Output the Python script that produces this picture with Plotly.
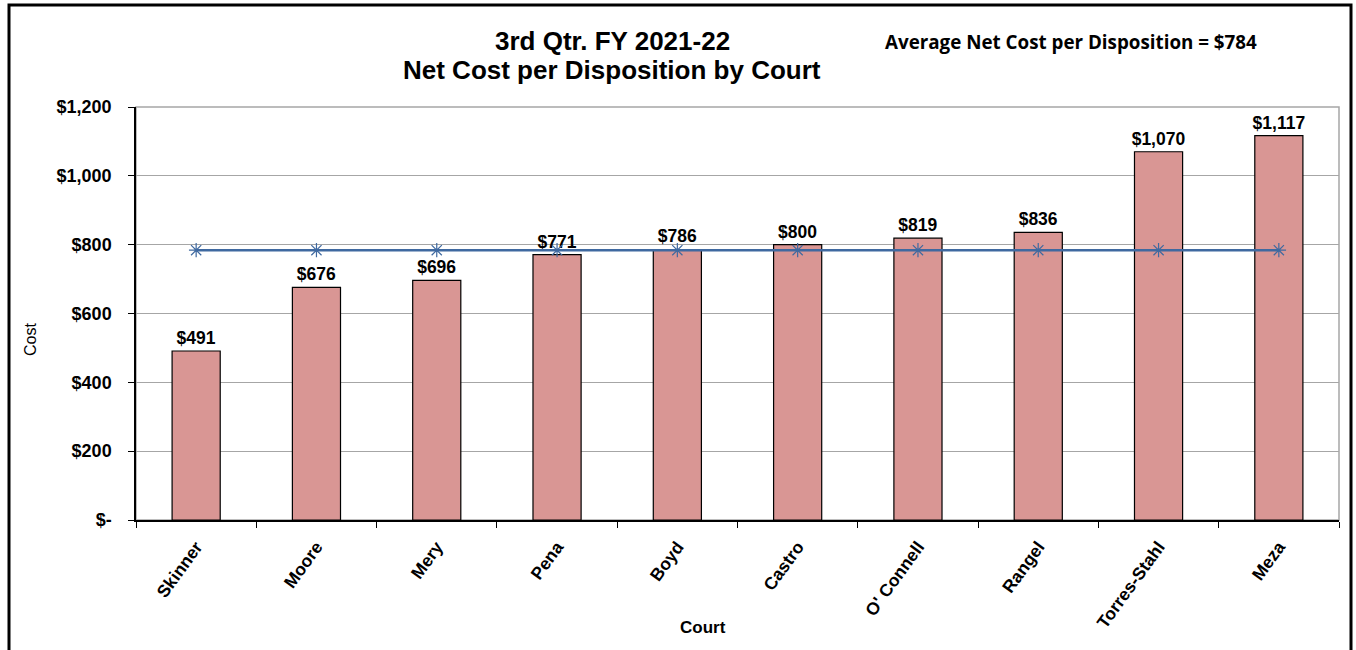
import plotly.graph_objects as go

courts = ["Skinner", "Moore", "Mery", "Pena", "Boyd", "Castro", "O' Connell", "Rangel", "Torres-Stahl", "Meza"]
costs = [491, 676, 696, 771, 786, 800, 819, 836, 1070, 1117]
average = 784
avg_values = [average] * len(courts)
y_tick_vals = [0, 200, 400, 600, 800, 1000, 1200]
y_tick_text = ["$-", "$200", "$400", "$600", "$800", "$1,000", "$1,200"]
bar_labels = ["$" + format(v, ",") for v in costs]

W, H = 1356, 650
L, R, T, B = 136, 17, 107, 130
pw, ph = W - L - R, H - T - B

def px(x):
    return (x - L) / pw

def py(y):
    return (H - B - y) / ph

fig = go.Figure()
fig.add_trace(go.Bar(
    x=courts, y=costs, width=0.4,
    marker=dict(color="#D99694", line=dict(color="black", width=1.2)),
    text=bar_labels, textposition="outside", cliponaxis=False, constraintext="none",
    textfont=dict(family="Liberation Sans", size=17.5, color="black", weight="bold"),
    showlegend=False,
))
fig.add_trace(go.Scatter(
    x=courts, y=avg_values, mode="lines+markers",
    line=dict(color="#3F69A0", width=2.5),
    marker=dict(symbol="asterisk-open", size=12, color="#3F69A0", line=dict(color="#3F69A0", width=1.2)),
    showlegend=False, cliponaxis=False,
))

fig.update_layout(
    width=W, height=H,
    margin=dict(l=L, r=R, t=T, b=B),
    paper_bgcolor="white", plot_bgcolor="white",
    xaxis=dict(
        range=[-0.5, len(courts) - 0.5],
        tickangle=-54, ticks="outside", ticklen=6, tickcolor="black",
        tickson="boundaries", automargin=False, ticklabelstandoff=8,
        showline=True, linecolor="black", linewidth=1.5,
        tickfont=dict(family="Liberation Sans", size=17.5, color="black", weight="bold"),
        showgrid=False,
    ),
    yaxis=dict(
        range=[0, 1200], tickvals=y_tick_vals, ticktext=y_tick_text,
        ticks="outside", ticklen=6, tickcolor="black", automargin=False,
        ticklabelstandoff=13,
        showline=True, linecolor="black", linewidth=1.5,
        showgrid=True, gridcolor="#A6A6A6", gridwidth=1.2,
        tickfont=dict(family="Liberation Sans", size=18, color="black", weight="bold"),
        zeroline=False,
    ),
    shapes=[
        dict(type="rect", xref="paper", yref="paper", x0=0, x1=1, y0=0, y1=1,
             line=dict(color="#A6A6A6", width=1.5), layer="below"),
        dict(type="rect", xref="paper", yref="paper", x0=px(9), x1=px(1351), y0=py(670), y1=py(5),
             line=dict(color="black", width=3)),
    ],
    annotations=[
        dict(text="3rd Qtr. FY 2021-22", xref="paper", yref="paper",
             x=px(612), y=py(41), xanchor="center", yanchor="middle", showarrow=False,
             font=dict(family="Liberation Sans", size=26, color="black", weight="bold")),
        dict(text="Net Cost per Disposition by Court", xref="paper", yref="paper",
             x=px(612), y=py(70), xanchor="center", yanchor="middle", showarrow=False,
             font=dict(family="Liberation Sans", size=26, color="black", weight="bold")),
        dict(text="Average Net Cost per Disposition = $784", xref="paper", yref="paper",
             x=px(1071), y=py(42), xanchor="center", yanchor="middle", showarrow=False,
             font=dict(family="Open Sans", size=18.8, color="black", weight="bold")),
        dict(text="Cost", xref="paper", yref="paper", textangle=-90,
             x=px(30), y=py(340), xanchor="center", yanchor="middle", showarrow=False,
             font=dict(family="Liberation Sans", size=16, color="black")),
        dict(text="Court", xref="paper", yref="paper",
             x=px(703), y=py(627), xanchor="center", yanchor="middle", showarrow=False,
             font=dict(family="Liberation Sans", size=17, color="black", weight="bold")),
    ],
)

fig.write_html("out.html", config={"displayModeBar": False},
               post_script="document.body.style.margin='0';document.body.style.overflow='hidden';")
